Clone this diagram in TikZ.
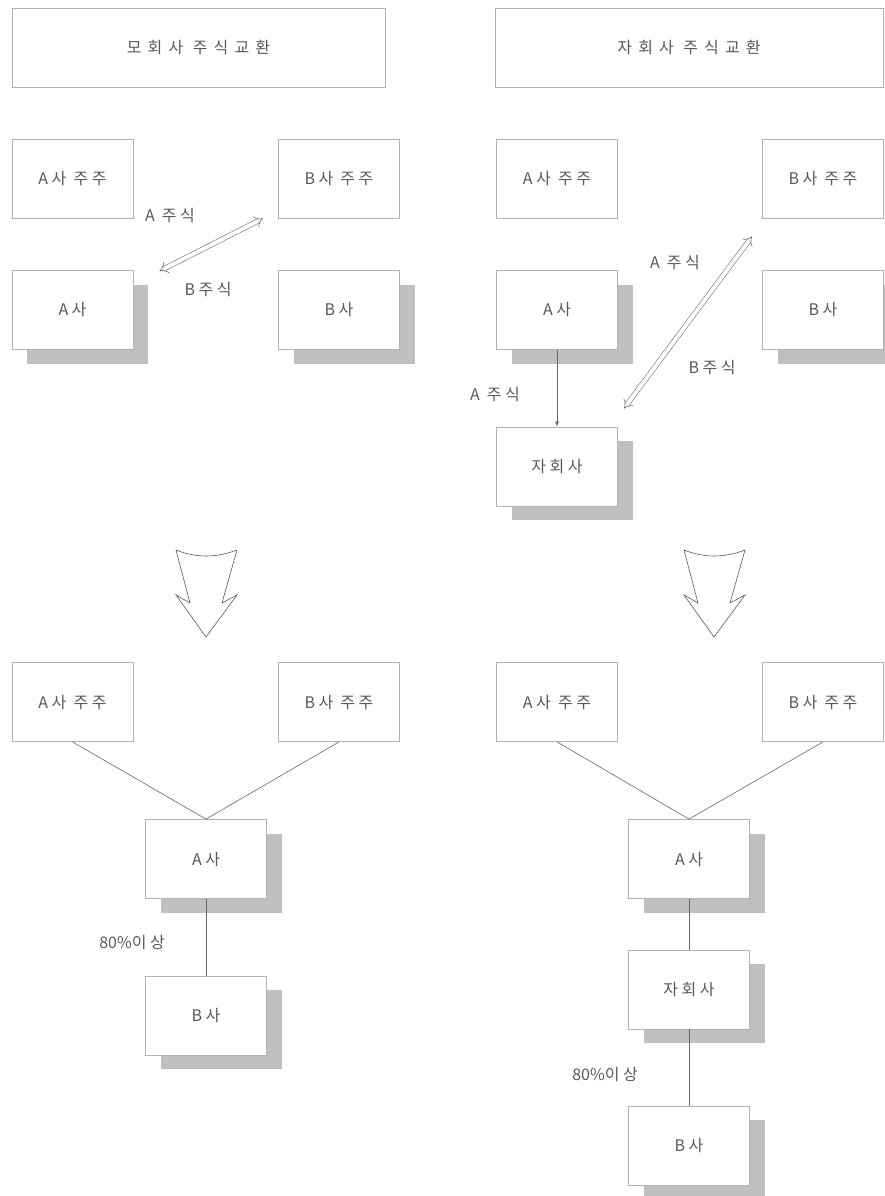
\documentclass[tikz,border=0pt]{standalone}
\usepackage{fontspec}
\newfontfamily\kr{Noto Sans CJK KR}[LetterSpace=22]
\newfontfamily\krtitle{Noto Sans CJK KR}[LetterSpace=38]
\newfontfamily\krtight{Noto Sans CJK KR}
\usepackage{tikz}
\usetikzlibrary{positioning,calc,shadows,arrows.meta}

\tikzset{
  box/.style={draw=gray!60, line width=0.8pt, fill=white, minimum width=121pt, minimum height=79pt, inner sep=0pt, font=\kr\fontsize{16}{18}\selectfont, text=black!65},
  sbox/.style={box, drop shadow={shadow xshift=15pt, shadow yshift=-14pt, fill=gray!50, opacity=1}},
  tbox/.style={box, font=\krtitle\fontsize{16}{18}\selectfont},
  lbl/.style={font=\kr\fontsize{16}{18}\selectfont, text=black!65},
  link/.style={draw=gray!80!black, line width=0.6pt},
  swap/.style={draw=gray!70!black, line width=0.5pt, double=white, double distance=4pt, {Implies}-{Implies}},
  bigarrow/.style={draw=gray!70!black, line width=0.6pt}
}

\begin{document}
\begin{tikzpicture}[x=1pt, y=-1pt]
    \useasboundingbox (0,0) rectangle (885,1196);

    % titles
    \node[tbox, minimum width=373pt] (tl) at (198.5,47.5) {모회사 주식교환};
    \node[tbox, minimum width=388pt] (tr) at (689,47.5) {자회사 주식교환};

    % left, before
    \node[box] (lAss) at (72.5,178.5) {A사 주주};
    \node[box] (lBss) at (339,178.5) {B사 주주};
    \node[sbox] (lA) at (72.5,310) {A사};
    \node[sbox] (lB) at (339,310) {B사};
    \draw[swap] ($(lBss.south west)+(-15,0)$) -- ($(lA.north east)+(26,1)$);
    \node[lbl] (lAst) at (170,216) {A 주식};
    \node[lbl] (lBst) at (208,290) {B주식};

    % right, before
    \node[box] (rAss) at (557,178.5) {A사 주주};
    \node[box] (rBss) at (823,178.5) {B사 주주};
    \node[sbox] (rA) at (557,310) {A사};
    \node[sbox] (rB) at (823,310) {B사};
    \node[sbox] (rS) at (557,466.5) {자회사};
    \draw[link, -{Latex[length=5pt,width=4pt]}] (rA) -- (rS);
    \node[lbl] (rAst) at (495,395) {A 주식};
    \draw[swap] ($(rBss.south west)+(-10,18)$) -- ($(rS.north east)+(6,-18)$);
    \node[lbl] (rAst2) at (675,263) {A 주식};
    \node[lbl] (rBst) at (712,368) {B주식};

    % big arrows
    \foreach \c in {206,714}
        \draw[bigarrow] (\c-30,550) .. controls (\c-10,558) and (\c+10,558) .. (\c+31,550)
            -- (\c+16,603) -- (\c+31,595) -- (\c,637) -- (\c-30,595) -- (\c-16,603) -- cycle;

    % left, after
    \node[box] (lAss2) at (72.5,702) {A사 주주};
    \node[box] (lBss2) at (339,702) {B사 주주};
    \node[sbox] (lA2) at (206,859) {A사};
    \node[sbox] (lB2) at (206,1015.5) {B사};
    \draw[link] (lAss2.south) -- (lA2.north) -- (lBss2.south);
    \draw[link] (lA2) -- (lB2);
    \node[lbl] (lpct) at (132,943) {{\krtight 80\%}이상};

    % right, after
    \node[box] (rAss2) at (557,702) {A사 주주};
    \node[box] (rBss2) at (823,702) {B사 주주};
    \node[sbox] (rA2) at (689,859) {A사};
    \node[sbox] (rS2) at (689,989.5) {자회사};
    \node[sbox] (rB2) at (689,1145.5) {B사};
    \draw[link] (rAss2.south) -- (rA2.north) -- (rBss2.south);
    \draw[link] (rA2) -- (rS2);
    \draw[link] (rS2) -- (rB2);
    \node[lbl] (rpct) at (605,1075) {{\krtight 80\%}이상};
\end{tikzpicture}
\end{document}
